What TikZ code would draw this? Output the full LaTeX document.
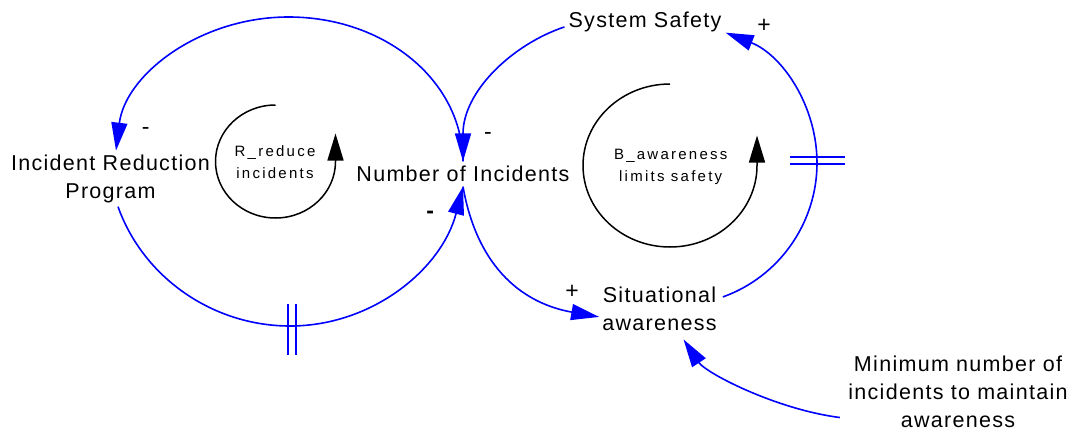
\documentclass[tikz,border=0pt]{standalone}
\usepackage{fontspec}
\setmainfont{Liberation Sans}[LetterSpace=6]
\newfontfamily\smallf{Liberation Sans}[LetterSpace=15]
\usetikzlibrary{arrows.meta}
\tikzset{
  var/.style={font=\fontsize{21.5}{27.6}\selectfont, align=center, inner xsep=3pt, inner ysep=4pt, anchor=base},
  looplbl/.style={font=\smallf\fontsize{15}{22}\selectfont, align=center, inner sep=0pt, anchor=base},
  pol/.style={font=\fontsize{23}{27.6}\selectfont, inner sep=0pt, anchor=base},
  link/.style={draw=blue, line width=1.6pt, -{Triangle[length=28pt,width=16pt]}},
  delay/.style={draw=blue, line width=1.6pt},
  loopline/.style={draw=black, line width=1.5pt, -{Triangle[length=27pt,width=16pt]}}
}
\begin{document}
\begin{tikzpicture}[x=1pt,y=1pt]
\useasboundingbox (0,0) rectangle (1075,-434);
% variables (base = baseline of the last line)
\node[var, inner xsep=4pt, inner ysep=0.5pt] (sys) at (645,-27.5) {System Safety};
\node[var] (irp) at (110.5,-198) {Incident Reduction\\Program};
\node[var, inner xsep=0pt, inner ysep=4.5pt] (noi) at (463,-181.7) {Number of Incidents};
\node[var] (sa) at (659.5,-330) {Situational\\awareness};
\node[var] (minn) at (958,-427) {Minimum number of\\incidents to maintain\\awareness};
% loop labels
\node[looplbl] (rlbl) at (275,-178.3) {R\_reduce\\incidents};
\node[looplbl] (blbl) at (670.7,-181.7) {B\_awareness\\limits safety};
% intermediate points
\coordinate (topL) at (288.5,-17);
\coordinate (botL) at (290,-326);
\coordinate (rmid) at (817,-163);
% connectors
\draw[link] (noi.north) .. controls (462,-80) and (384.3,-17) .. (topL)
   .. controls (199.7,-17) and (125.3,-74.7) .. ([xshift=5.5pt]irp.north);
\draw[link] ([xshift=7.5pt]irp.south) .. controls (143.3,-277.7) and (213,-326) .. (botL)
   .. controls (373,-326) and (441.9,-268.5) .. (noi.south);
\draw[link] ([yshift=-5pt]sys.west) .. controls +(198.5:55) and +(90:70) .. (noi.north);
\draw[link] (noi.south) .. controls +(280:85) and +(170:75) .. ([yshift=-8.4pt]sa.west);
\draw[link] ([shift={(3,11.6)}]sa.east) .. controls (778.7,-277.1) and (817,-223.3) .. (rmid)
   .. controls (817,-105.6) and (782.1,-54.8) .. (sys.south east);
\draw[link] ([shift={(-5.3,-25.8)}]minn.west) .. controls +(172.7:65) and +(-56.5:40) .. ([shift={(24,-5)}]sa.south);
% delay marks
\draw[delay] ([shift={(-2.3,22)}]botL) -- ++(0,-51);
\draw[delay] ([shift={(6,22)}]botL) -- ++(0,-51);
\draw[delay] ([shift={(-27,6)}]rmid) -- ++(55,0);
\draw[delay] ([shift={(-27,-1)}]rmid) -- ++(55,0);
% polarities
\node[pol] (p1) at (145.7,-134) {-};
\node[pol] (p2) at (488,-139) {-};
\node[pol] (p3) at (431,-218.6) {\textbf{-}};
\node[pol] (p4) at (572,-298.5) {+};
\node[pol] (p5) at (764,-32.2) {+};
% loop markers
\draw[loopline] (275.5,-105) arc[start angle=90, end angle=360, x radius=60, y radius=56.5] -- ++(0,28);
\draw[loopline] (670,-84) arc[start angle=90, end angle=360, x radius=87, y radius=81.5] -- ++(0,30);
\end{tikzpicture}
\end{document}
